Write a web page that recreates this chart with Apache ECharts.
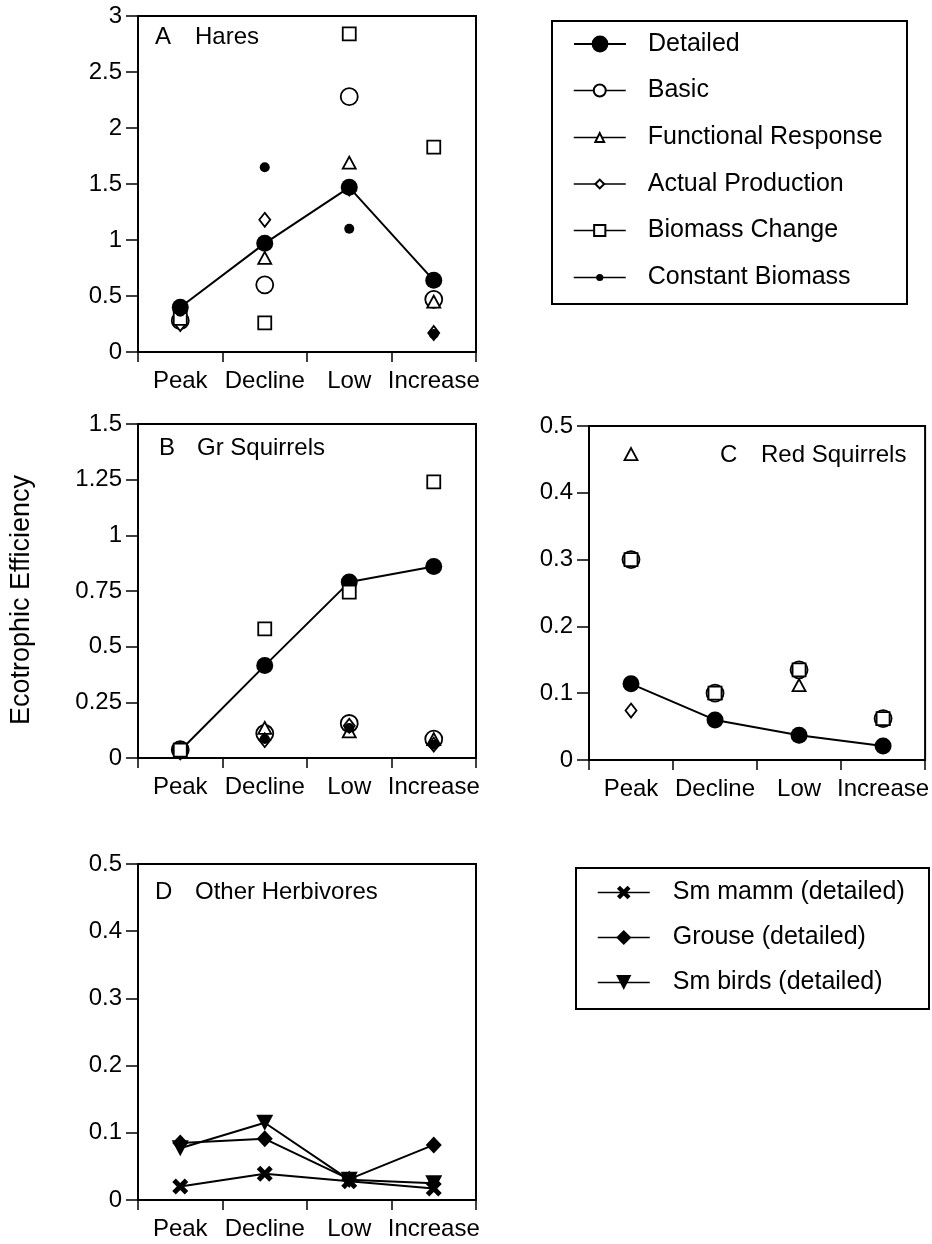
<!DOCTYPE html>
<html>
<head>
<meta charset="utf-8">
<script src="https://cdn.jsdelivr.net/npm/echarts@6/dist/echarts.min.js"></script>
<style>
html,body{margin:0;padding:0;background:#fff;}
#chart{width:932px;height:1244px;}
</style>
</head>
<body>
<div id="chart"></div>
<script>
// ---- Data ----
const categories = ['Peak', 'Decline', 'Low', 'Increase'];
const methodNames = ['Detailed', 'Basic', 'Functional Response', 'Actual Production', 'Biomass Change', 'Constant Biomass'];
const otherNames = ['Sm mamm (detailed)', 'Grouse (detailed)', 'Sm birds (detailed)'];

// A  Hares
const haresDetailed   = [0.40, 0.97, 1.47, 0.64];
const haresBasic      = [0.28, 0.60, 2.28, 0.47];
const haresFunctional = [0.30, 0.84, 1.69, 0.45];
const haresActual     = [0.25, 1.18, 1.46, 0.17];
const haresBiomass    = [0.30, 0.26, 2.84, 1.83];
const haresConstant   = [0.36, 1.65, 1.10, 0.16];

// B  Gr Squirrels
const grDetailed   = [0.034, 0.415, 0.79, 0.86];
const grBasic      = [0.037, 0.11, 0.155, 0.085];
const grFunctional = [0.03, 0.135, 0.12, 0.085];
const grActual     = [0.025, 0.08, 0.145, 0.06];
const grBiomass    = [0.035, 0.58, 0.745, 1.24];
const grConstant   = [0.028, 0.085, 0.135, 0.06];

// C  Red Squirrels
const redDetailed   = [0.114, 0.060, 0.037, 0.021];
const redBasic      = [0.30, 0.10, 0.135, 0.062];
const redFunctional = [0.458, 0.10, 0.112, 0.062];
const redActual     = [0.074, 0.060, 0.037, 0.021];
const redBiomass    = [0.30, 0.10, 0.135, 0.062];
const redConstant   = [0.114, 0.060, 0.037, 0.021];

// D  Other Herbivores
const smMamm  = [0.020, 0.039, 0.028, 0.017];
const grouse  = [0.085, 0.091, 0.031, 0.082];
const smBirds = [0.077, 0.115, 0.030, 0.025];

// Axis tick settings
const yMaxA = 3,   yStepA = 0.5;
const yMaxB = 1.5, yStepB = 0.25;
const yMaxC = 0.5, yStepC = 0.1;
const yMaxD = 0.5, yStepD = 0.1;

// ---- Styles ----
const FONT = 'Liberation Sans, Arial, Helvetica, sans-serif';
const X_PATH = 'path://M2.2,0 L5,2.8 L7.8,0 L10,2.2 L7.2,5 L10,7.8 L7.8,10 L5,7.2 L2.2,10 L0,7.8 L2.8,5 L0,2.2 Z';
const DOWN_TRI = 'path://M0,0 L10,0 L5,9 Z';

const symStyles = {
  'Detailed':            {symbol: 'circle',   size: 17,      fill: '#000', line: 2,  legendH: 21},
  'Basic':               {symbol: 'circle',   size: 17,      fill: '#fff', line: 0,  legendH: 15},
  'Functional Response': {symbol: 'triangle', size: [13, 12], fill: '#fff', line: 0, legendH: 11},
  'Actual Production':   {symbol: 'diamond',  size: [11, 14], fill: '#fff', line: 0, legendH: 11},
  'Biomass Change':      {symbol: 'rect',     size: 13,      fill: '#fff', line: 0,  legendH: 14},
  'Constant Biomass':    {symbol: 'circle',   size: 10,      fill: '#000', line: 0,  legendH: 9},
  'Sm mamm (detailed)':  {symbol: X_PATH,     size: 16,      fill: '#000', line: 2,  legendH: 17},
  'Grouse (detailed)':   {symbol: 'diamond',  size: [16, 17], fill: '#000', line: 2, legendH: 19},
  'Sm birds (detailed)': {symbol: DOWN_TRI,   size: [17, 16], fill: '#000', line: 2, legendH: 19}
};

function mkSeries(name, data, gi, z) {
  const s = symStyles[name];
  const open = s.fill === '#fff';
  return {
    type: 'line', name: name, xAxisIndex: gi, yAxisIndex: gi, data: data,
    symbol: s.symbol, symbolSize: s.size, showSymbol: true, z: z,
    itemStyle: {color: s.fill, borderColor: '#000', borderWidth: open ? 1.8 : 0},
    lineStyle: s.line ? {color: '#000', width: s.line} : {color: '#000', width: 1, opacity: 0},
    emphasis: {disabled: true}, silent: true, animation: false
  };
}

const grids = [
  {left: 138, top: 16,  width: 338, height: 336},
  {left: 138, top: 424, width: 338, height: 334},
  {left: 589, top: 426, width: 337, height: 334},
  {left: 138, top: 864, width: 338, height: 336}
].map(g => Object.assign(g, {show: true, borderColor: '#000', borderWidth: 2, backgroundColor: 'transparent'}));

function mkX(gi) {
  return {
    type: 'category', gridIndex: gi, data: categories, boundaryGap: true, offset: 3,
    axisLine: {show: false},
    axisTick: {show: true, length: 10, alignWithLabel: false, lineStyle: {color: '#000', width: 1.5}},
    axisLabel: {interval: 0, color: '#000', fontSize: 24, fontFamily: FONT, margin: 14},
    splitLine: {show: false}
  };
}
function mkY(gi, max, step) {
  return {
    type: 'value', gridIndex: gi, min: 0, max: max, interval: step,
    axisLine: {show: true, lineStyle: {color: '#000', width: 2}},
    axisTick: {show: true, length: 12, lineStyle: {color: '#000', width: 1.5}},
    axisLabel: {color: '#000', fontSize: 24, fontFamily: FONT, margin: 16},
    splitLine: {show: false}
  };
}

const series = [];
const panelData = [
  [haresBasic, haresFunctional, haresActual, haresBiomass, haresConstant, haresDetailed],
  [grBasic, grFunctional, grActual, grBiomass, grConstant, grDetailed],
  [redBasic, redFunctional, redActual, redBiomass, redConstant, redDetailed]
];
const order = ['Basic', 'Functional Response', 'Actual Production', 'Biomass Change', 'Constant Biomass', 'Detailed'];
panelData.forEach((arrs, gi) => {
  arrs.forEach((d, k) => {
    let z = 2 + k;
    if (gi === 1 && order[k] === 'Biomass Change') z = 10;
    series.push(mkSeries(order[k], d, gi, z));
  });
});
series.push(mkSeries('Sm mamm (detailed)', smMamm, 3, 3));
series.push(mkSeries('Grouse (detailed)', grouse, 3, 4));
series.push(mkSeries('Sm birds (detailed)', smBirds, 3, 5));

// Legends (one per row so each icon keeps its own size)
const legends = [];
const rows1 = [43.5, 90, 137, 183.5, 230, 277];
methodNames.forEach((n, i) => {
  const s = symStyles[n];
  legends.push({
    left: 573, top: rows1[i] - 12, padding: 0, itemWidth: 52, itemHeight: s.legendH,
    data: [n], selectedMode: false,
    textStyle: {fontSize: 25, lineHeight: 24, fontFamily: FONT, color: '#000', padding: [0, 0, 0, 17]},
    lineStyle: {color: '#000', width: n === 'Detailed' ? 2 : 1.5, opacity: 1}
  });
});
const rows2 = [892, 937, 982];
otherNames.forEach((n, i) => {
  const s = symStyles[n];
  legends.push({
    left: 597, top: rows2[i] - 12, padding: 0, itemWidth: 52, itemHeight: s.legendH,
    data: [n], selectedMode: false,
    textStyle: {fontSize: 25, lineHeight: 24, fontFamily: FONT, color: '#000', padding: [0, 0, 0, 18]},
    lineStyle: {color: '#000', width: 1.5, opacity: 1}
  });
});

const tStyle = {fontSize: 24, fontWeight: 'normal', fontFamily: FONT, color: '#000'};
const titles = [
  ['A', 155, 25], ['Hares', 195, 25],
  ['B', 159, 436], ['Gr Squirrels', 197, 436],
  ['C', 720, 443], ['Red Squirrels', 761, 443],
  ['D', 155, 880], ['Other Herbivores', 195, 880]
].map(t => ({text: t[0], left: t[1], top: t[2], padding: 0, textStyle: tStyle}));

const chart = echarts.init(document.getElementById('chart'), null, {renderer: 'canvas'});
chart.setOption({
  animation: false,
  backgroundColor: '#fff',
  title: titles,
  grid: grids,
  xAxis: [0, 1, 2, 3].map(mkX),
  yAxis: [mkY(0, yMaxA, yStepA), mkY(1, yMaxB, yStepB), mkY(2, yMaxC, yStepC), mkY(3, yMaxD, yStepD)],
  legend: legends,
  series: series,
  graphic: [
    {type: 'rect', shape: {x: 552, y: 21, width: 355, height: 283}, style: {fill: 'none', stroke: '#000', lineWidth: 2}, z: 0, silent: true},
    {type: 'rect', shape: {x: 576, y: 868, width: 353, height: 141}, style: {fill: 'none', stroke: '#000', lineWidth: 2}, z: 0, silent: true},
    {type: 'text', x: 22, y: 600, rotation: Math.PI / 2, silent: true,
     style: {text: 'Ecotrophic Efficiency', font: '27px ' + FONT, fill: '#000', textAlign: 'center', textVerticalAlign: 'middle'}}
  ]
});
</script>
</body>
</html>
